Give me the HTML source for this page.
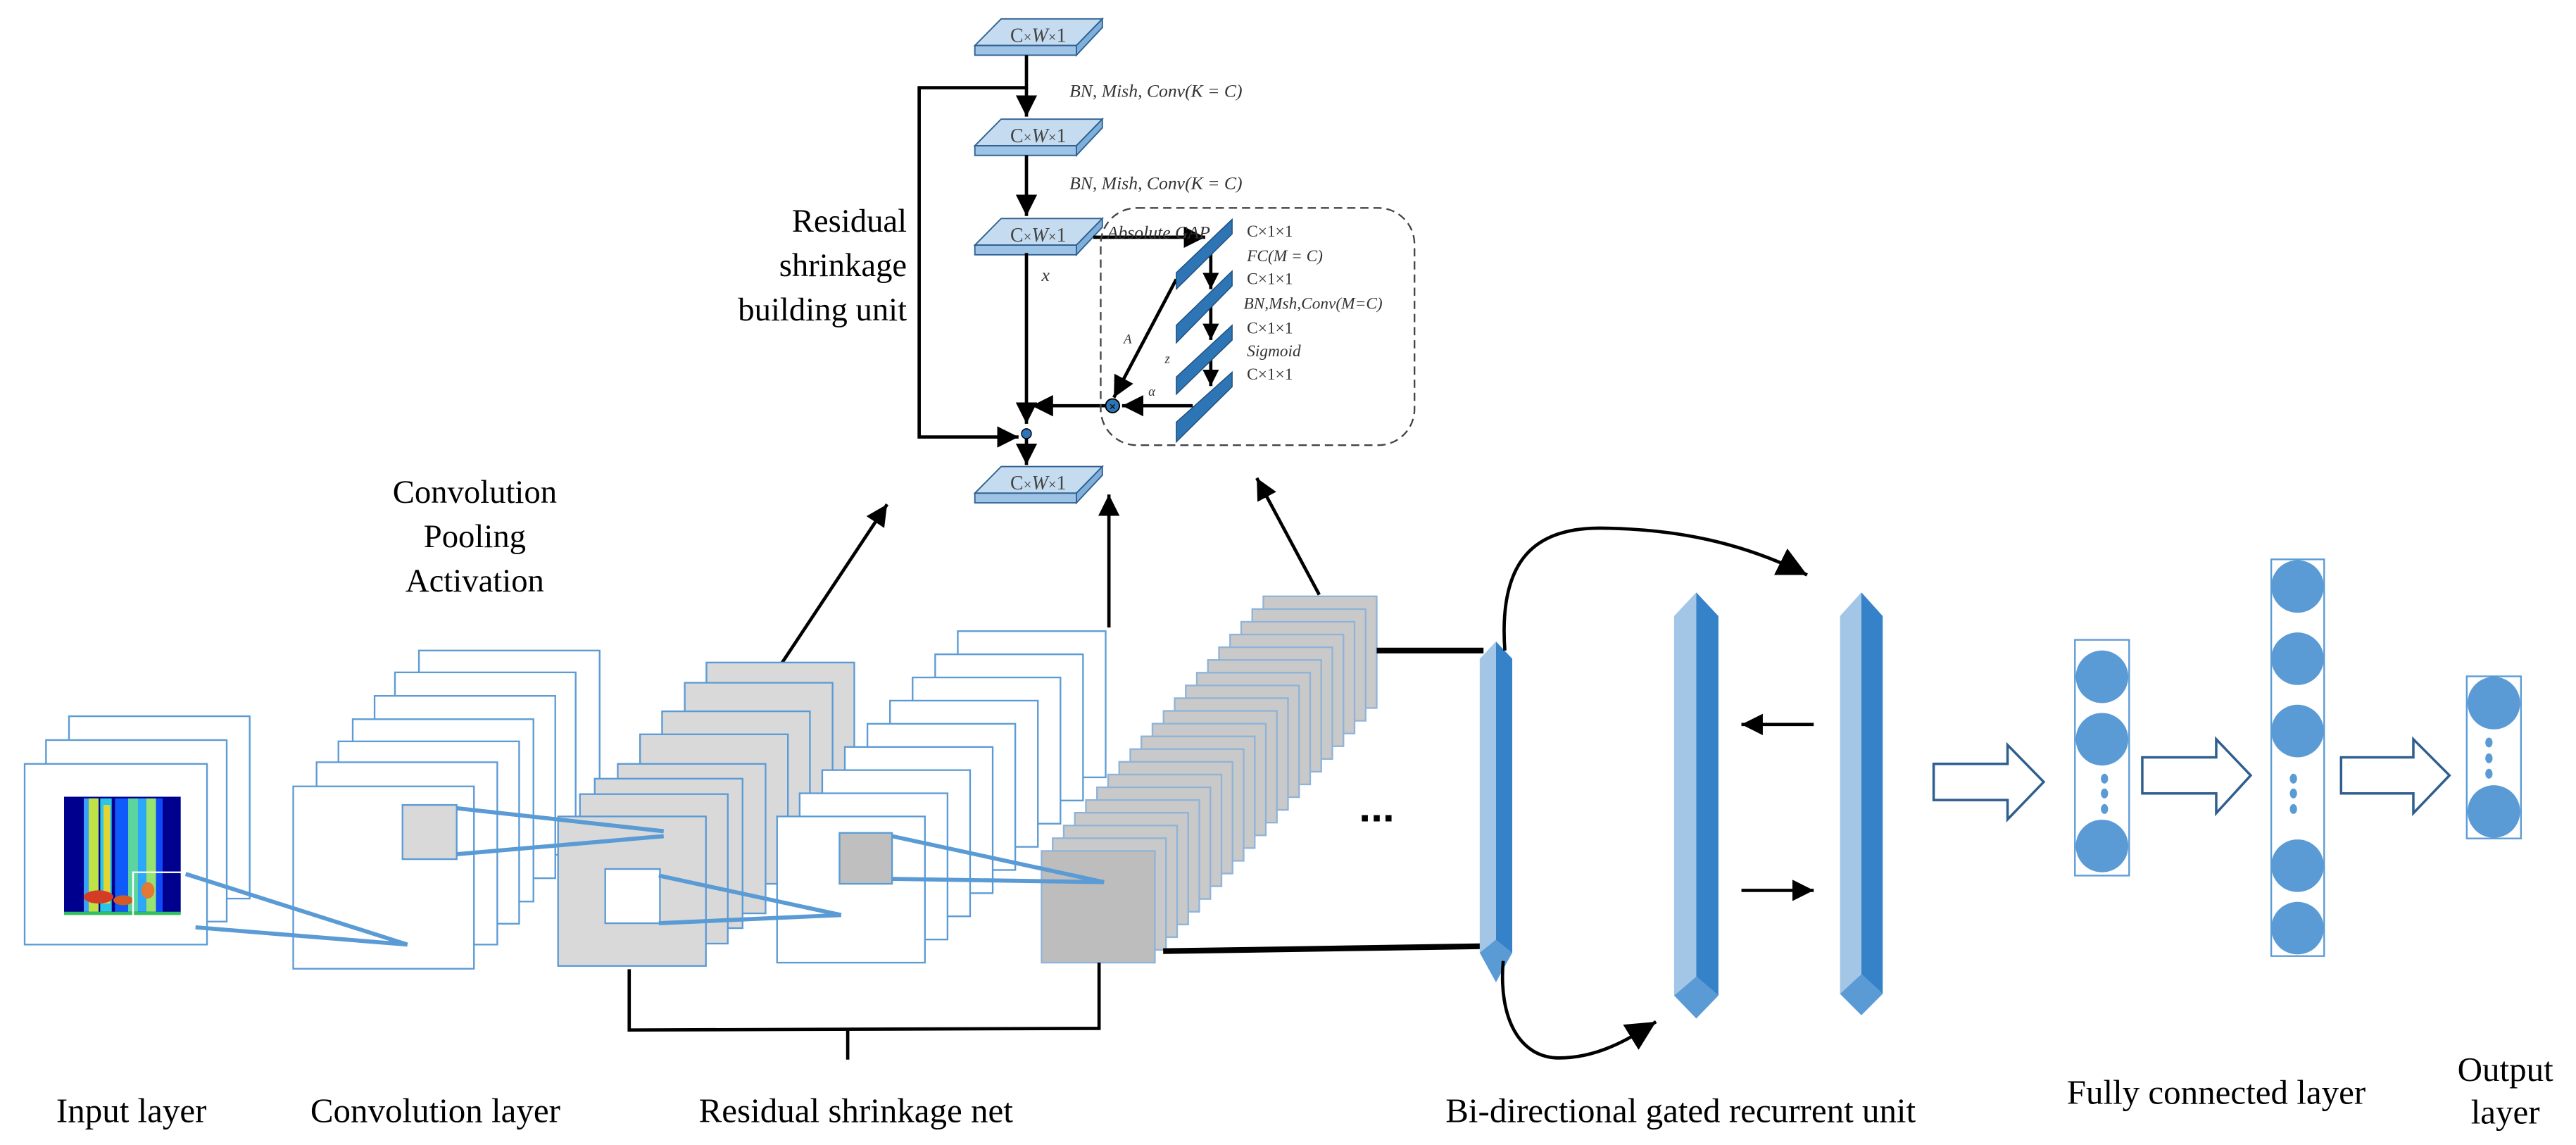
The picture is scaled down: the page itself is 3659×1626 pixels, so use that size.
<!DOCTYPE html>
<html><head><meta charset="utf-8"><style>
html,body{margin:0;padding:0;background:#fff;}
svg{display:block;}
.serif{font-family:"Liberation Serif",serif;}
</style></head><body>
<svg width="3659" height="1626" viewBox="0 0 1568 697" preserveAspectRatio="none" xmlns="http://www.w3.org/2000/svg">
<defs>
<marker id="ah" viewBox="0 0 10 10" refX="10" refY="5" markerWidth="13" markerHeight="13" markerUnits="userSpaceOnUse" orient="auto"><path d="M0,0 L10,5 L0,10 z" fill="#000"/></marker>
<marker id="as" viewBox="0 0 10 10" refX="10" refY="5" markerWidth="10" markerHeight="10" markerUnits="userSpaceOnUse" orient="auto"><path d="M0,0 L10,5 L0,10 z" fill="#000"/></marker>
<marker id="ab" viewBox="0 0 10 10" refX="10" refY="5" markerWidth="18" markerHeight="18" markerUnits="userSpaceOnUse" orient="auto"><path d="M0,0 L10,5 L0,10 z" fill="#000"/></marker>
<g id="blk">
<polygon points="593.4,27.7 609.4,11.5 671,11.5 655.2,27.7" fill="#c5dcf0" stroke="#2e5f8f" stroke-width="0.8"/>
<rect x="593.4" y="27.7" width="61.8" height="5.9" fill="#9dc3e6" stroke="#2e5f8f" stroke-width="0.8"/>
<polygon points="655.2,27.7 671,11.5 671,16.8 655.2,33.6" fill="#7fb0dc" stroke="#2e5f8f" stroke-width="0.8"/>
<text x="632" y="25.5" font-size="12" text-anchor="middle" fill="#444" font-family="Liberation Serif,serif">C<tspan font-size="9">×</tspan><tspan font-style="italic">W</tspan><tspan font-size="9">×</tspan>1</text>
</g>
</defs>

<!-- Top unit -->
<use href="#blk"/>
<use href="#blk" y="61"/>
<use href="#blk" y="121.5"/>
<use href="#blk" y="272.5"/>
<g stroke="#000" stroke-width="2" fill="none">
<line x1="624.8" y1="33.6" x2="624.8" y2="71" marker-end="url(#ah)"/>
<line x1="624.8" y1="94.5" x2="624.8" y2="131.5" marker-end="url(#ah)"/>
<polyline points="624,53.4 559.5,53.4 559.5,266 620,266" marker-end="url(#ah)"/>
<line x1="624.8" y1="154" x2="624.8" y2="258" marker-end="url(#ah)"/>
<line x1="624.8" y1="262" x2="624.8" y2="283" marker-end="url(#ah)"/>
<line x1="673" y1="247" x2="628" y2="247" marker-end="url(#ah)"/>
<line x1="726" y1="247" x2="683" y2="247" marker-end="url(#ah)"/>
<line x1="665.5" y1="144.4" x2="733.6" y2="144.4" marker-end="url(#ah)"/>
<line x1="716" y1="170" x2="678" y2="242" marker-end="url(#ah)"/>
<line x1="737" y1="154" x2="737" y2="176" marker-end="url(#as)"/>
<line x1="737" y1="186" x2="737" y2="207" marker-end="url(#as)"/>
<line x1="737" y1="214" x2="737" y2="235" marker-end="url(#as)"/>
</g>
<circle cx="624.8" cy="264" r="3" fill="#2e75b6" stroke="#000" stroke-width="0.6"/>
<circle cx="677.2" cy="247" r="4.2" fill="#2e75b6" stroke="#000" stroke-width="0.8"/>
<text x="677.2" y="250" font-size="7" text-anchor="middle" fill="#000" font-family="Liberation Sans,sans-serif">×</text>
<rect x="670" y="126.6" width="191" height="144.4" rx="22" fill="none" stroke="#444" stroke-width="1" stroke-dasharray="5,3"/>
<g fill="#2e75b6" stroke="#1f4e79" stroke-width="0.6">
<polygon points="716,166 750,133.5 750,142.4 716,176"/>
<polygon points="716,198 750,165 750,174 716,208.7"/>
<polygon points="716,229.5 750,198 750,207 716,240"/>
<polygon points="716,257 750,226.5 750,235.4 716,269"/>
</g>
<g font-family="Liberation Serif,serif" fill="#333">
<text x="651" y="59" font-size="11" font-style="italic">BN, Mish, Conv(K = C)</text>
<text x="651" y="115" font-size="11" font-style="italic">BN, Mish, Conv(K = C)</text>
<text x="674" y="145" font-size="11" font-style="italic">Absolute GAP</text>
<text x="634" y="171" font-size="11" font-style="italic">x</text>
<text x="684" y="209" font-size="8" font-style="italic">A</text>
<text x="709" y="221" font-size="8" font-style="italic">z</text>
<text x="699" y="241" font-size="8" font-style="italic">α</text>
<g font-size="10">
<text x="759" y="144">C×1×1</text>
<text x="759" y="159" font-style="italic">FC(M = C)</text>
<text x="759" y="173">C×1×1</text>
<text x="757" y="188" font-style="italic">BN,Msh,Conv(M=C)</text>
<text x="759" y="203">C×1×1</text>
<text x="759" y="217" font-style="italic">Sigmoid</text>
<text x="759" y="231">C×1×1</text>
</g>
</g>
<g class="serif" font-size="20" fill="#000" text-anchor="end">
<text x="552" y="141">Residual</text>
<text x="552" y="168">shrinkage</text>
<text x="552" y="195">building unit</text>
</g>
<g class="serif" font-size="20" fill="#000" text-anchor="middle">
<text x="289" y="306">Convolution</text>
<text x="289" y="333">Pooling</text>
<text x="289" y="360">Activation</text>
</g>

<!-- arrows up -->
<g stroke="#000" stroke-width="2" fill="none">
<line x1="475" y1="405" x2="540" y2="307" marker-end="url(#ah)"/>
<line x1="675" y1="382" x2="675" y2="301" marker-end="url(#ah)"/>
<line x1="803" y1="362" x2="765" y2="291" marker-end="url(#ah)"/>
</g>

<!-- Input layer -->
<g fill="#fff" stroke="#5b9bd5" stroke-width="1">
<rect x="42" y="436" width="110" height="111"/>
<rect x="28" y="450.5" width="110" height="110.5"/>
<rect x="15" y="465" width="111" height="110"/>
</g>
<rect x="39" y="485" width="71" height="71" fill="#00008f"/>
<g opacity="0.95">
<rect x="51" y="486" width="9" height="69" fill="#3fa9ff"/>
<rect x="54" y="486" width="6" height="69" fill="#c8f040"/>
<rect x="61" y="486" width="7" height="69" fill="#2fd0e8"/>
<rect x="63" y="490" width="4" height="60" fill="#f0e030"/>
<rect x="70" y="486" width="8" height="69" fill="#1060ff"/>
<rect x="78" y="486" width="6" height="69" fill="#60e0a0"/>
<rect x="84" y="486" width="5" height="69" fill="#2fb0ff"/>
<rect x="89" y="486" width="6" height="69" fill="#a0f070"/>
<rect x="95" y="486" width="4" height="69" fill="#1050ff"/>
<ellipse cx="60" cy="546" rx="9" ry="4" fill="#e04020"/>
<ellipse cx="75" cy="548" rx="6" ry="3" fill="#e06020"/>
<ellipse cx="90" cy="542" rx="4" ry="5" fill="#f08030"/>
</g>
<rect x="39" y="555" width="71" height="2" fill="#30c060"/>
<rect x="81" y="531" width="32" height="30" fill="none" stroke="#fff" stroke-width="1"/>

<!-- Convolution layer -->
<g fill="#fff" stroke="#5b9bd5" stroke-width="1">
<rect x="255" y="396" width="110" height="111"/>
<rect x="240.4" y="409.3" width="110" height="111"/>
<rect x="228" y="423.6" width="110" height="111"/>
<rect x="214.7" y="437.8" width="110" height="111"/>
<rect x="206" y="451.3" width="110" height="111"/>
<rect x="192.7" y="464" width="110" height="111"/>
<rect x="178.5" y="478.7" width="110" height="111"/>
</g>
<rect x="245" y="490" width="33" height="33" fill="#d9d9d9" stroke="#5b9bd5" stroke-width="1"/>
<g stroke="#5b9bd5" stroke-width="2.5" fill="none">
<line x1="113" y1="532" x2="248" y2="575"/>
<line x1="119" y1="564.5" x2="248" y2="575"/>
</g>

<!-- Residual stack 1 gray -->
<g fill="#d9d9d9" stroke="#5b9bd5" stroke-width="1">
<rect x="430" y="403.3" width="90" height="91"/>
<rect x="416.8" y="415.6" width="90" height="91"/>
<rect x="403" y="433" width="90" height="91"/>
<rect x="389.6" y="447" width="90" height="91"/>
<rect x="376" y="465" width="90" height="91"/>
<rect x="362" y="474" width="90" height="91"/>
<rect x="353" y="483.4" width="90" height="91"/>
<rect x="339.7" y="497" width="90" height="91"/>
</g>
<rect x="368.4" y="529" width="33.3" height="33" fill="#fff" stroke="#5b9bd5" stroke-width="1"/>
<g stroke="#5b9bd5" stroke-width="2.5" fill="none">
<line x1="278" y1="492" x2="404" y2="506"/>
<line x1="278" y1="520" x2="404" y2="509"/>
</g>

<!-- Residual stack 2 white -->
<g fill="#fff" stroke="#5b9bd5" stroke-width="1">
<rect x="583" y="384.2" width="90" height="89"/>
<rect x="569.25" y="398.3" width="90" height="89"/>
<rect x="555.5" y="412.4" width="90" height="89"/>
<rect x="541.75" y="426.5" width="90" height="89"/>
<rect x="528" y="440.6" width="90" height="89"/>
<rect x="514.25" y="454.7" width="90" height="89"/>
<rect x="500.5" y="468.8" width="90" height="89"/>
<rect x="486.75" y="482.9" width="90" height="89"/>
<rect x="473" y="497" width="90" height="89"/>
</g>
<rect x="511" y="507" width="32" height="31" fill="#bfbfbf" stroke="#5b9bd5" stroke-width="1"/>
<g stroke="#5b9bd5" stroke-width="2.5" fill="none">
<line x1="401" y1="533" x2="512" y2="557"/>
<line x1="401" y1="562" x2="512" y2="557"/>
</g>

<!-- Residual stack 3 gray -->
<g fill="#c9c9c9" stroke="#8fb4d8" stroke-width="1">
<rect x="769" y="363" width="69" height="68"/>
<rect x="762.25" y="370.75" width="69" height="68"/>
<rect x="755.5" y="378.5" width="69" height="68"/>
<rect x="748.75" y="386.25" width="69" height="68"/>
<rect x="742" y="394" width="69" height="68"/>
<rect x="735.25" y="401.75" width="69" height="68"/>
<rect x="728.5" y="409.5" width="69" height="68"/>
<rect x="721.75" y="417.25" width="69" height="68"/>
<rect x="715" y="425" width="69" height="68"/>
<rect x="708.25" y="432.75" width="69" height="68"/>
<rect x="701.5" y="440.5" width="69" height="68"/>
<rect x="694.75" y="448.25" width="69" height="68"/>
<rect x="688" y="456" width="69" height="68"/>
<rect x="681.25" y="463.75" width="69" height="68"/>
<rect x="674.5" y="471.5" width="69" height="68"/>
<rect x="667.75" y="479.25" width="69" height="68"/>
<rect x="661" y="487" width="69" height="68"/>
<rect x="654.25" y="494.75" width="69" height="68"/>
<rect x="647.5" y="502.5" width="69" height="68"/>
<rect x="640.75" y="510.25" width="69" height="68"/>
<rect x="634" y="518" width="69" height="68" fill="#bdbdbd"/>
</g>
<g stroke="#5b9bd5" stroke-width="2.5" fill="none">
<line x1="543" y1="509" x2="672" y2="537"/>
<line x1="543" y1="535" x2="672" y2="537"/>
</g>
<text x="838" y="500" font-size="26" font-weight="bold" text-anchor="middle" font-family="Liberation Sans,sans-serif">...</text>

<!-- bracket -->
<g stroke="#000" stroke-width="2" fill="none">
<polyline points="383,590 383,627 669,626 669,586"/>
<line x1="516" y1="626" x2="516" y2="645"/>
</g>
<g stroke="#000" stroke-width="3.5">
<line x1="838" y1="396" x2="903" y2="396"/>
<line x1="708" y1="579" x2="903" y2="576"/>
</g>

<!-- GRU bars -->
<g>
<polygon points="900.7,401 910.6,390.5 910.6,585 900.7,580" fill="#a4c6e6"/>
<polygon points="910.6,390.5 920.5,401 920.5,580 910.6,585" fill="#3682c8"/>
<polygon points="900.7,580 910.6,572 920.5,580 910.6,598" fill="#5b9bd5"/>
<polygon points="1019,375 1032.5,360.6 1032.5,594.5 1019,606" fill="#a4c6e6"/>
<polygon points="1032.5,360.6 1046,375 1046,606 1032.5,594.5" fill="#3682c8"/>
<polygon points="1019,606 1032.5,594.5 1046,606 1032.5,620" fill="#5b9bd5"/>
<polygon points="1120,375 1133,360.6 1133,593 1120,605" fill="#a4c6e6"/>
<polygon points="1133,360.6 1146,375 1146,605 1133,593" fill="#3682c8"/>
<polygon points="1120,605 1133,593 1146,605 1133,618" fill="#5b9bd5"/>
</g>
<g stroke="#000" stroke-width="2" fill="none">
<path d="M916,396 C912,340 935,321 975,321.5 C1020,322 1060,330 1100,350" marker-end="url(#ab)"/>
<path d="M915,585 C912,620 925,644 949,644 C975,644 995,630 1008,622" marker-end="url(#ab)"/>
<line x1="1104" y1="441" x2="1060" y2="441" marker-end="url(#ah)"/>
<line x1="1060" y1="542" x2="1104" y2="542" marker-end="url(#ah)"/>
</g>

<!-- hollow arrows -->
<g fill="#fff" stroke="#2e5f8f" stroke-width="1.5">
<polygon points="1177,465 1222,465 1222,453.5 1244,476 1222,498.8 1222,487 1177,487"/>
<polygon points="1304,461 1349,461 1349,450 1370,472 1349,495 1349,483 1304,483"/>
<polygon points="1425,461 1469,461 1469,450 1491,472 1469,495 1469,483 1425,483"/>
</g>

<!-- FC layers -->
<g fill="none" stroke="#5b9bd5" stroke-width="1">
<rect x="1263" y="389.5" width="33" height="143.5"/>
<rect x="1382.5" y="340.5" width="32.2" height="241.5"/>
<rect x="1501.5" y="411.7" width="33" height="98.7"/>
</g>
<g fill="#5b9bd5">
<ellipse cx="1279.5" cy="412" rx="16" ry="16"/>
<ellipse cx="1279.5" cy="450" rx="16" ry="16"/>
<ellipse cx="1279.5" cy="515" rx="16" ry="16"/>
<ellipse cx="1398.5" cy="357" rx="16" ry="16"/>
<ellipse cx="1398.5" cy="401" rx="16" ry="16"/>
<ellipse cx="1398.5" cy="445" rx="16" ry="16"/>
<ellipse cx="1398.5" cy="527" rx="16" ry="16"/>
<ellipse cx="1398.5" cy="565" rx="16" ry="16"/>
<ellipse cx="1518" cy="428" rx="16" ry="16"/>
<ellipse cx="1518" cy="494" rx="16" ry="16"/>
<ellipse cx="1281" cy="474" rx="2.2" ry="3"/>
<ellipse cx="1281" cy="483" rx="2.2" ry="3"/>
<ellipse cx="1281" cy="492.5" rx="2.2" ry="3"/>
<ellipse cx="1396" cy="474" rx="2.2" ry="3"/>
<ellipse cx="1396" cy="483" rx="2.2" ry="3"/>
<ellipse cx="1396" cy="492.5" rx="2.2" ry="3"/>
<ellipse cx="1515" cy="452" rx="2.2" ry="3"/>
<ellipse cx="1515" cy="461.6" rx="2.2" ry="3"/>
<ellipse cx="1515" cy="471" rx="2.2" ry="3"/>
</g>

<!-- bottom labels -->
<g class="serif" font-size="21" fill="#000" text-anchor="middle">
<text x="80" y="683">Input layer</text>
<text x="265" y="683">Convolution layer</text>
<text x="521" y="683">Residual shrinkage net</text>
<text x="1023" y="683">Bi-directional gated recurrent unit</text>
<text x="1349" y="672">Fully connected layer</text>
<text x="1525" y="658">Output</text>
<text x="1525" y="684">layer</text>
</g>
</svg>
</body></html>
